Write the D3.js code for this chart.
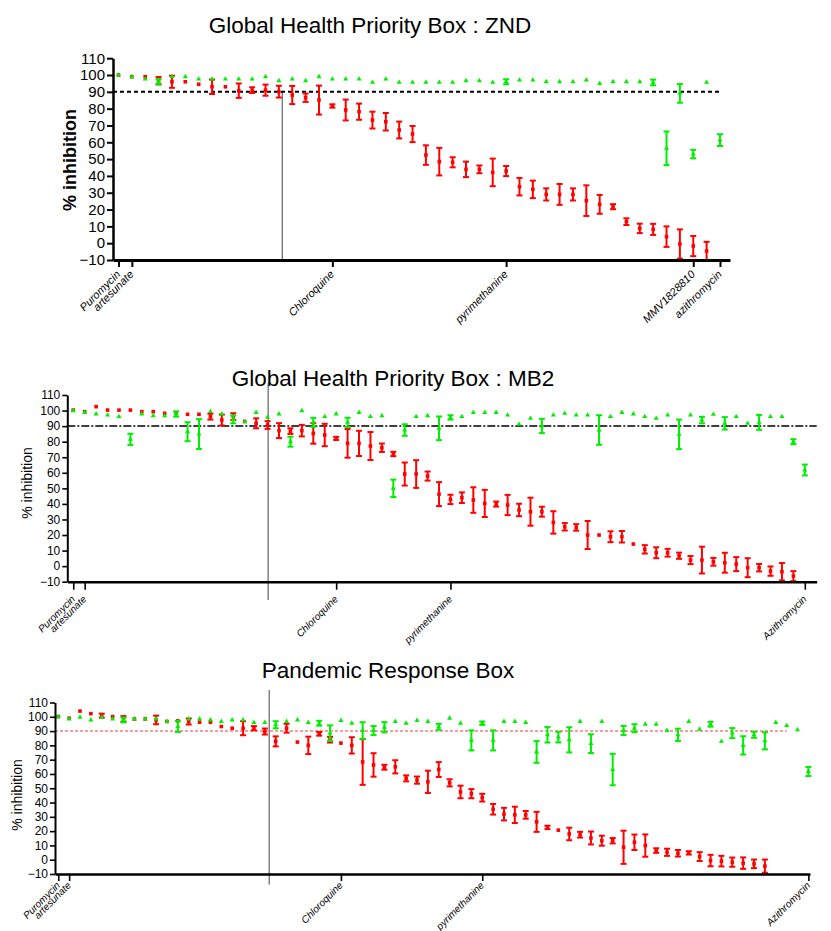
<!DOCTYPE html>
<html>
<head>
<meta charset="utf-8">
<script src="https://cdn.jsdelivr.net/npm/d3@7"></script>
<style>
  body { margin: 0; background: #fff; }
  svg { display: block; }
</style>
</head>
<body>
<div id="chart"></div>
<script>
// ---- data: % inhibition, red = test concentration, green = second read ----
// Global Health Priority Box : ZND
var zndRed = [100, 99, 99, 96.6, 96, 96, 94.5, 93, 93, 90.7,
  91, 91, 90.1, 88.1, 86.5, 85.1, 81.6, 79.2, 78.2, 73.2,
  72.2, 67.3, 64.9, 52.4, 48.5, 48.1, 43.9, 43.9, 42.1, 42.9,
  33.6, 32, 29, 29, 29, 25.3, 23.1, 21.7, 12.8, 8.8,
  8.2, 3.9, -0.5, -1.7, -4.7];
var zndRedErr = [0, 0, 0, 2.2, 3.6, 0, 0, 4.3, 0, 4.3,
  1.7, 3.3, 3.5, 5.4, 2.5, 8.6, 1, 6.2, 4.8, 5,
  5.2, 5, 4.8, 5.8, 8.2, 3, 4.6, 2.3, 8.2, 3,
  5.2, 5.2, 3.6, 6.2, 3.6, 9.1, 5.6, 1.5, 2, 2.8,
  3.3, 6.1, 8.7, 6, 5.5];
var zndGreen = [100, 99, 97.6, 96, 99, 99, 97.6, 97.6, 97.6, 97.6,
  97.6, 99, 96.6, 97.6, 96.6, 99, 97.6, 97.6, 97.6, 95.6,
  97.6, 95.6, 95.6, 95.6, 95.6, 95.6, 96.6, 96.6, 95.6, 96,
  97, 97, 96, 96, 96, 97, 95, 96, 96, 96,
  95.6, 56.4, 89.1, 53, 95.6, 61.3];
var zndGreenErr = [0, 0, 0, 1.5, 0, 0, 0, 0, 0, 0,
  0, 0, 0, 0, 0, 0, 0, 0, 0, 0,
  0, 0, 0, 0, 0, 0, 0, 0, 0, 1.5,
  0, 0, 0, 0, 0, 0, 0, 0, 0, 0,
  1.7, 10, 5.6, 2.5, 0, 3.5];
var zndTickIdx = [0, 1, 16, 29, 43, 45];
var zndTickLabels = ["Puromycin", "artesunate", "Chloroquine", "pyrimethanine", "MMV1828810", "azithromycin"];

// Global Health Priority Box : MB2
var mb2Red = [100.3, 99.3, 102.5, 100.3, 100.3, 100.3, 99.3, 99.3, 98.2, 98.6,
  97.6, 97.6, 96.1, 93.9, 96.1, 93, 91.8, 90.7, 87.1, 86.8,
  87.1, 85.3, 84.3, 82.1, 78.9, 78.9, 77.2, 76.1, 72.1, 59.2,
  59.2, 57.9, 46.3, 42.9, 44, 42.5, 40.3, 39.9, 39.3, 36.1,
  35, 35, 28.1, 25.3, 24.9, 20, 20, 18.9, 18.9, 14.2,
  10.8, 8.6, 8.6, 6.7, 3.9, 3.9, 2.8, 2.2, 1.3, -1,
  -1, -3.2, -3.6, -6.4];
var mb2RedErr = [0, 0, 0, 0, 0, 0, 0, 0, 0, 0,
  0, 0, 1.9, 3.5, 2.2, 0, 3.2, 2.5, 4.8, 1.8,
  3.7, 6.6, 7.2, 1, 9.2, 8.1, 9, 2.7, 1.4, 7.4,
  8.9, 2.9, 7.7, 3, 3.4, 8.2, 8.7, 1.6, 6.5, 4,
  9, 3.2, 7.2, 2.4, 2.1, 9, 0, 3.5, 3.7, 0,
  2.7, 3.5, 2.5, 2, 2.6, 8.6, 2.5, 6.4, 4.5, 6.1,
  2.4, 3, 5.6, 3.2];
var mb2Green = [99.9, 98.8, 97.8, 97.1, 96.1, 81.5, 97.8, 96.7, 96.7, 97.8,
  86.4, 84.9, 99.3, 97.8, 94.3, 92.8, 98.8, 95.6, 97.8, 80,
  99.9, 92.4, 96.1, 97.8, 92.4, 98.8, 96.1, 96.7, 50, 87.5,
  96.1, 96.7, 88.6, 95.6, 96.1, 98.8, 98.8, 98.8, 97.1, 91.1,
  95, 90.1, 97.1, 98.2, 97.1, 97.1, 87.5, 96.1, 98.8, 97.8,
  96.1, 95, 97.1, 84.7, 97.1, 93.9, 97.6, 91.8, 96.1, 91.8,
  92.4, 96.1, 96.1, 80, 61.8];
var mb2GreenErr = [0, 0, 0, 0, 0, 3.6, 0, 0, 0, 1.7,
  6.1, 9.6, 0, 0, 2.5, 0, 0, 0, 0, 3.2,
  0, 2.9, 0, 0, 3, 0, 0, 0, 5.6, 3.7,
  0, 0, 7.6, 1.4, 0, 0, 0, 0, 0, 0,
  0, 4.6, 0, 0, 0, 0, 9.5, 0, 0, 0,
  0, 0, 0, 9.5, 0, 2.1, 0, 4, 0, 0,
  4.8, 0, 0, 1.6, 3.5];
var mb2TickIdx = [0, 1, 23, 33, 64];
var mb2TickLabels = ["Puromycin", "artesunate", "Chloroquine", "pyrimethanine", "Azithromycin"];

// Pandemic Response Box
var prbRed = [100.1, 99, 104, 102.2, 100.8, 100.1, 98.5, 98.5, 98.5, 97.8,
  96.7, 97.1, 96.7, 96.2, 96.2, 93.2, 92, 92, 92, 89.7,
  82.8, 92, 82.3, 80, 88.1, 84, 81.6, 80, 68.4, 66.3,
  64.7, 65, 56.9, 55.7, 54.5, 63.1, 53.8, 47.4, 46.2, 43.4,
  35.3, 31.9, 31.4, 31.4, 26.5, 22.6, 20.7, 18, 17.5, 15.2,
  13.3, 13.3, 8.7, 12.2, 9.9, 6.4, 5.2, 4.5, 4.8, 2.2,
  -0.6, -1, -1.7, -2.4, -2.9, -4.5];
var prbRedErr = [0, 0, 0, 0, 1.4, 0, 2, 0, 0, 3,
  0, 0, 2.1, 0, 0, 0, 0, 4.9, 1.5, 2.1,
  3.5, 3.1, 0, 6.1, 1.3, 2, 0, 5.7, 16, 8.2,
  1.7, 4.6, 2.1, 2.5, 7.8, 5.2, 2.5, 4.4, 3.2, 2.7,
  3.7, 4.4, 5.7, 2.7, 7, 1.2, 0, 4.4, 2, 4.5,
  3.5, 1.9, 11.6, 5.4, 7.8, 1.6, 2.5, 2.3, 1.2, 3.1,
  4, 3.7, 3.2, 4, 3, 4.6];
var prbGreen = [100.1, 98.5, 99.7, 97.8, 99.7, 98.5, 97.8, 98.5, 98.5, 98.5,
  96.7, 93.2, 98.5, 98.5, 97.8, 96.7, 97.8, 97.8, 96, 96,
  94.4, 96.7, 97.8, 96, 95.5, 88.6, 97.4, 95.5, 90.4, 90.4,
  92.7, 96.7, 95.5, 97.4, 96.7, 93, 99, 95.5, 83.5, 95.5,
  83.5, 96.7, 96.7, 96, 75.4, 87.4, 85.8, 83.9, 96.7, 81.2,
  96.7, 63.1, 90.4, 92, 94.8, 94.8, 90.4, 87.4, 96.7, 91.3,
  94.8, 82.8, 88.6, 80, 87.4, 83.2, 96, 93.9, 90.9, 61.7];
var prbGreenErr = [0, 0, 0, 0, 0, 0, 1.7, 0, 0, 0,
  0, 3.8, 0, 0, 0, 0, 0, 0, 0, 0,
  2.5, 0, 0, 0, 1.7, 5.4, 0, 0, 5.8, 3.1,
  3.6, 0, 0, 0, 0, 2.1, 0, 0, 7, 1.2,
  7, 0, 0, 0, 7.6, 5.4, 3.7, 8.8, 0, 6.6,
  0, 11, 3.2, 2.8, 0, 0, 0, 4.3, 0, 0,
  1.7, 0, 3.5, 6.4, 2.1, 6, 0, 0, 0, 3.2];
var prbTickIdx = [0, 1, 26, 39, 69];
var prbTickLabels = ["Puromycin", "artesunate", "Chloroquine", "pyrimethanine", "Azithromycin"];

var yTicks = [-10, 0, 10, 20, 30, 40, 50, 60, 70, 80, 90, 100, 110];

// ---- layout ----
var FONT = "Arial, 'Liberation Sans', sans-serif";
var RED = "#ff0000", GREEN = "#00ee00";
var width = 831, height = 931;

var svg = d3.select("#chart").append("svg")
    .attr("width", width)
    .attr("height", height);

var panels = [
  {title: "Global Health Priority Box : ZND", titleX: 370, titleY: 33,
   red: zndRed, redErr: zndRedErr, green: zndGreen, greenErr: zndGreenErr,
   ticks: zndTickIdx, tickLabels: zndTickLabels,
   x0: 113, x1: 730, xDom: [-0.41, 45.75], yTop: 58.2, yBot: 260,
   axisW: 2.5, yTickLen: 6, yTickFont: 15, xTickLen: 7, xLabelFont: 11, lblDx: 2, lblDy: 15,
   yLabel: "% inhibition", yLabelX: 76, yLabelY: 160, yLabelSize: 18, yLabelWeight: "bold",
   ref: {from: -0.41, to: 45.15, color: "#000", width: 2, dash: "4,3"},
   divider: {at: 12.25, from: 90, to: -10}},
  {title: "Global Health Priority Box : MB2", titleX: 393, titleY: 386,
   red: mb2Red, redErr: mb2RedErr, green: mb2Green, greenErr: mb2GreenErr,
   ticks: mb2TickIdx, tickLabels: mb2TickLabels,
   x0: 67.3, x1: 816.7, xDom: [-0.52, 65.04], yTop: 395, yBot: 581.7,
   axisW: 2, yTickLen: 5, yTickFont: 12, xTickLen: 8, xLabelFont: 10, lblDx: 2, lblDy: 18,
   yLabel: "% inhibition", yLabelX: 32, yLabelY: 483, yLabelSize: 14, yLabelWeight: "normal",
   ref: {from: -0.52, to: 65.04, color: "#000", width: 1.5, dash: "8,2,2,2"},
   divider: {at: 17.05, from: 117.7, to: -21.8}},
  {title: "Pandemic Response Box", titleX: 388, titleY: 678,
   red: prbRed, redErr: prbRedErr, green: prbGreen, greenErr: prbGreenErr,
   ticks: prbTickIdx, tickLabels: prbTickLabels,
   x0: 55, x1: 810, xDom: [-0.3, 69.15], yTop: 702.5, yBot: 874,
   axisW: 2, yTickLen: 5, yTickFont: 12, xTickLen: 7, xLabelFont: 10, lblDx: 2, lblDy: 12,
   yLabel: "% inhibition", yLabelX: 22, yLabelY: 795, yLabelSize: 14, yLabelWeight: "normal",
   ref: {from: -0.3, to: 67, color: "#f08080", width: 1.5, dash: "3,2"},
   divider: {at: 19.4, from: 118.7, to: -17.4}}
];

panels.forEach(drawPanel);

function drawPanel(p) {
  var g = svg.append("g");
  var x = d3.scaleLinear().domain(p.xDom).range([p.x0, p.x1]);
  var y = d3.scaleLinear().domain([-10, 110]).range([p.yBot, p.yTop]);

  g.append("text")
    .attr("x", p.titleX)
    .attr("y", p.titleY)
    .attr("text-anchor", "middle")
    .attr("font-family", FONT)
    .attr("font-size", 22.5)
    .text(p.title);

  g.append("text")
    .attr("transform", "translate(" + p.yLabelX + "," + p.yLabelY + ") rotate(-90)")
    .attr("text-anchor", "middle")
    .attr("font-family", FONT)
    .attr("font-size", p.yLabelSize)
    .attr("font-weight", p.yLabelWeight)
    .text(p.yLabel);

  // divider line between groups
  g.append("line")
    .attr("x1", x(p.divider.at)).attr("x2", x(p.divider.at))
    .attr("y1", y(p.divider.from)).attr("y2", y(p.divider.to))
    .attr("stroke", "#444")
    .attr("stroke-width", 1);

  // 90% threshold
  g.append("line")
    .attr("x1", x(p.ref.from)).attr("x2", x(p.ref.to))
    .attr("y1", y(90)).attr("y2", y(90))
    .attr("stroke", p.ref.color)
    .attr("stroke-width", p.ref.width)
    .attr("stroke-dasharray", p.ref.dash);

  drawSeries(g, x, y, p.red, p.redErr, RED, "square");
  drawSeries(g, x, y, p.green, p.greenErr, GREEN, "triangle");

  // d3.axis sets its own font on the group, so restyle after the call
  var ya = g.append("g")
    .attr("transform", "translate(" + p.x0 + ",0)")
    .call(d3.axisLeft(y).tickValues(yTicks).tickSize(p.yTickLen).tickSizeOuter(0).tickPadding(2))
    .attr("font-family", FONT)
    .attr("font-size", p.yTickFont);
  ya.select(".domain").attr("stroke-width", p.axisW);
  ya.selectAll(".tick line").attr("stroke-width", p.axisW * 0.8);

  var xa = g.append("g")
    .attr("transform", "translate(0," + p.yBot + ")")
    .call(d3.axisBottom(x).tickValues(p.ticks)
      .tickFormat(function(d, i) { return p.tickLabels[i]; })
      .tickSize(p.xTickLen).tickSizeOuter(0))
    .attr("font-family", FONT)
    .attr("font-size", p.xLabelFont);
  xa.select(".domain").attr("stroke-width", p.axisW + 0.5);
  xa.selectAll(".tick line").attr("stroke-width", p.axisW * 0.8);
  xa.selectAll(".tick text")
    .attr("x", 0).attr("y", 0).attr("dy", 0)
    .attr("text-anchor", "end")
    .attr("font-style", "italic")
    .attr("transform", "translate(" + p.lblDx + "," + p.lblDy + ") rotate(-45)");
}

function drawSeries(g, x, y, values, errs, color, shape) {
  var pts = values.map(function(v, i) { return {i: i, v: v, e: errs[i]}; });
  var withErr = pts.filter(function(d) { return d.e > 0; });

  var eb = g.append("g")
    .attr("stroke", color)
    .attr("stroke-width", 2);
  eb.selectAll(".stem").data(withErr).enter().append("line")
    .attr("x1", function(d) { return x(d.i); })
    .attr("x2", function(d) { return x(d.i); })
    .attr("y1", function(d) { return y(d.v - d.e); })
    .attr("y2", function(d) { return y(d.v + d.e); });
  [-1, 1].forEach(function(s) {
    eb.selectAll(".cap" + s).data(withErr).enter().append("line")
      .attr("x1", function(d) { return x(d.i) - 3; })
      .attr("x2", function(d) { return x(d.i) + 3; })
      .attr("y1", function(d) { return y(d.v + s * d.e); })
      .attr("y2", function(d) { return y(d.v + s * d.e); });
  });

  if (shape === "square") {
    g.append("g").selectAll("rect").data(pts).enter().append("rect")
      .attr("x", function(d) { return x(d.i) - 1.8; })
      .attr("y", function(d) { return y(d.v) - 1.8; })
      .attr("width", 3.6)
      .attr("height", 3.6)
      .attr("fill", color);
  } else {
    var tri = d3.symbol().type(d3.symbolTriangle).size(11);
    g.append("g").selectAll("path").data(pts).enter().append("path")
      .attr("transform", function(d) { return "translate(" + x(d.i) + "," + y(d.v) + ")"; })
      .attr("d", tri)
      .attr("fill", color);
  }
}
</script>
</body>
</html>
